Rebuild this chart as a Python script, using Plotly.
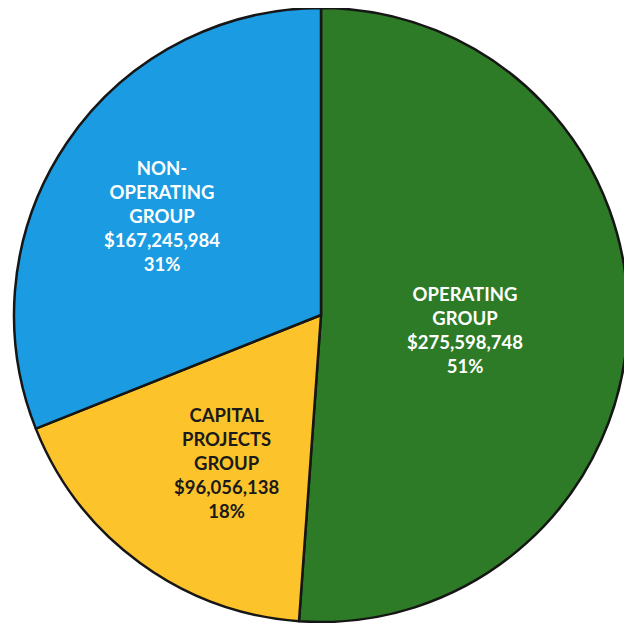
import plotly.graph_objects as go

labels = ["OPERATING<br>GROUP", "CAPITAL<br>PROJECTS<br>GROUP", "NON-<br>OPERATING<br>GROUP"]
values = [275598748, 96056138, 167245984]
percents = ["51%", "18%", "31%"]
colors = ["#2d7b26", "#fcc42a", "#1b9be1"]
text_colors = ["white", "#1a1a1a", "white"]

texts = [f"{l}<br>${v:,}<br>{p}" for l, v, p in zip(labels, values, percents)]

OFF = 8  # browser body margin
W, H = 632 - OFF, 623 - OFF

fig = go.Figure(go.Pie(
    values=values,
    labels=[l.replace("<br>", " ") for l in labels],
    sort=False,
    direction="clockwise",
    rotation=0,
    marker=dict(colors=colors, line=dict(color="#161616", width=2.5)),
    textinfo="none",
    hoverinfo="skip",
    domain=dict(x=[(14 - OFF) / W, (628 - OFF) / W], y=[1 - (622 - OFF) / H, 1.0]),
    showlegend=False,
))

# label centre positions (screen px) for each slice
pos = [(465, 330), (226, 463), (162, 216)]
for t, c, (x, y) in zip(texts, text_colors, pos):
    fig.add_annotation(x=(x - OFF) / W, y=1 - (y - OFF) / H, xref="paper", yref="paper",
                       xanchor="center", yanchor="middle",
                       text=f"<b>{t}</b>", showarrow=False, align="center",
                       font=dict(family="Lato", size=18.5, color=c))

fig.update_layout(width=W, height=H, margin=dict(l=0, r=0, t=0, b=0),
                  paper_bgcolor="white", plot_bgcolor="white")
fig.write_html("out.html")
